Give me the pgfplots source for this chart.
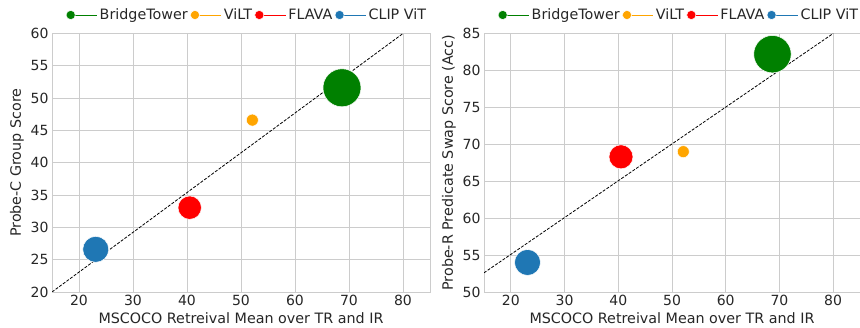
\documentclass[border=0pt]{standalone}
\usepackage{fontspec}
\setmainfont{DejaVu Sans}
\usepackage{pgfplots}
\pgfplotsset{compat=1.18}
\definecolor{txt}{HTML}{262626}
\definecolor{gridc}{HTML}{CCCCCC}
\definecolor{cgreen}{HTML}{008000}
\definecolor{corange}{HTML}{FFA500}
\definecolor{cred}{HTML}{FF0000}
\definecolor{cblue}{HTML}{1F77B4}
\newcommand{\legfont}{\fontsize{14.3}{17}\selectfont}
\begin{document}
\begin{tikzpicture}
\path[use as bounding box] (0,0) rectangle (860pt,328pt);
\begin{axis}[at={(52pt,36pt)}, anchor=south west,
  scale only axis, width=378pt, height=258.5pt,
  xmin=15, xmax=85, xtick={20,30,...,80},
  ymin=20, ymax=60, ytick={20,25,...,60},
  xticklabel={\pgfmathprintnumber[assume math mode=true]{\tick}},
  yticklabel={\pgfmathprintnumber[assume math mode=true]{\tick}},
  grid=major, major grid style={gridc, line width=0.9pt},
  axis line style={gridc, line width=0.9pt},
  major tick length=0pt,
  tick label style={font=\fontsize{14}{16}\selectfont, text=txt},
  label style={font=\fontsize{14.3}{17}\selectfont, text=txt},
  xlabel={MSCOCO Retreival Mean over TR and IR},
  ylabel={Probe-C Group Score},
  legend columns=4,
  legend style={font=\legfont, text=txt, draw=none, fill=none, at={(0.5,1)}, anchor=center, xshift=5pt, yshift=18.5pt, inner sep=0pt, column sep=2.4pt, nodes={inner sep=0pt}},
  legend image code/.code={\path (0pt,0pt) -- (31pt,0pt); \draw[mark repeat=2,mark phase=2,#1,only marks,mark size=4.6pt] plot coordinates {(0pt,0pt)(4.6pt,0pt)(31pt,0pt)};}]
\addplot[only marks, mark=*, cgreen, mark size=19pt, mark options={draw=white, fill=cgreen, line width=0.5pt}] coordinates {(68.7,51.6)};
\addlegendentry{BridgeTower}
\addplot[only marks, mark=*, corange, mark size=6pt, mark options={draw=white, fill=corange, line width=0.5pt}] coordinates {(52.1,46.6)};
\addlegendentry{ViLT}
\addplot[only marks, mark=*, cred, mark size=11.7pt, mark options={draw=white, fill=cred, line width=0.5pt}] coordinates {(40.5,33.05)};
\addlegendentry{FLAVA}
\addplot[only marks, mark=*, cblue, mark size=13pt, mark options={draw=white, fill=cblue, line width=0.5pt}] coordinates {(23.1,26.6)};
\addlegendentry{CLIP ViT}
\addplot[black, line width=0.8pt, dash pattern=on 3pt off 1.5pt, forget plot] coordinates {(15,20) (80,60)};
\end{axis}
\begin{axis}[at={(484pt,36pt)}, anchor=south west,
  scale only axis, width=376pt, height=258.5pt,
  xmin=15, xmax=85, xtick={20,30,...,80},
  ymin=50, ymax=85, ytick={50,55,...,85},
  xticklabel={\pgfmathprintnumber[assume math mode=true]{\tick}},
  yticklabel={\pgfmathprintnumber[assume math mode=true]{\tick}},
  grid=major, major grid style={gridc, line width=0.9pt},
  axis line style={gridc, line width=0.9pt},
  major tick length=0pt,
  tick label style={font=\fontsize{14}{16}\selectfont, text=txt},
  label style={font=\fontsize{14.3}{17}\selectfont, text=txt},
  xlabel={MSCOCO Retreival Mean over TR and IR},
  ylabel={Probe-R Predicate Swap Score (Acc)},
  legend columns=4,
  legend style={font=\legfont, text=txt, draw=none, fill=none, at={(0.5,1)}, anchor=center, xshift=6pt, yshift=18.5pt, inner sep=0pt, column sep=2.4pt, nodes={inner sep=0pt}},
  legend image code/.code={\path (0pt,0pt) -- (31pt,0pt); \draw[mark repeat=2,mark phase=2,#1,only marks,mark size=4.6pt] plot coordinates {(0pt,0pt)(4.6pt,0pt)(31pt,0pt)};}]
\addplot[only marks, mark=*, cgreen, mark size=18.7pt, mark options={draw=white, fill=cgreen, line width=0.5pt}] coordinates {(68.7,82.2)};
\addlegendentry{BridgeTower}
\addplot[only marks, mark=*, corange, mark size=6pt, mark options={draw=white, fill=corange, line width=0.5pt}] coordinates {(52.1,69.0)};
\addlegendentry{ViLT}
\addplot[only marks, mark=*, cred, mark size=12pt, mark options={draw=white, fill=cred, line width=0.5pt}] coordinates {(40.5,68.3)};
\addlegendentry{FLAVA}
\addplot[only marks, mark=*, cblue, mark size=13pt, mark options={draw=white, fill=cblue, line width=0.5pt}] coordinates {(23.1,54.0)};
\addlegendentry{CLIP ViT}
\addplot[black, line width=0.8pt, dash pattern=on 3pt off 1.5pt, forget plot] coordinates {(15,52.6) (80,85)};
\end{axis}
\end{tikzpicture}
\end{document}
